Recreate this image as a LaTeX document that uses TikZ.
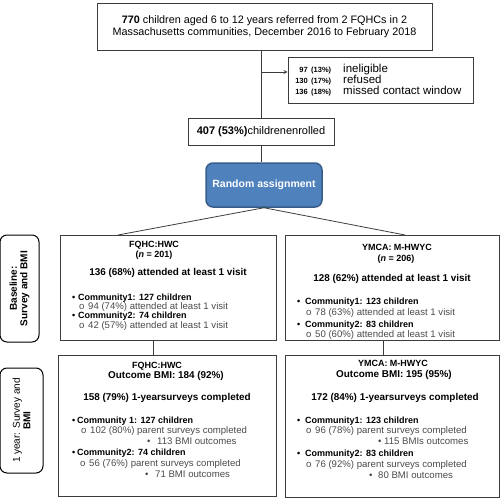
\documentclass[tikz,border=0pt]{standalone}
\usepackage{fontspec}
\setmainfont{Liberation Sans}
\usepackage{tikz}
\usetikzlibrary{shapes,arrows,positioning}
\definecolor{boxline}{HTML}{3C3C3C}
\definecolor{rablue}{HTML}{4F81BD}
\definecolor{radark}{HTML}{385D8A}
\definecolor{subgray}{HTML}{4A4A4A}
\tikzstyle{box} = [rectangle, draw=boxline, line width=0.9pt, inner sep=0pt]
\tikzstyle{phase} = [rectangle, rounded corners=7pt, draw=black, line width=1pt, inner sep=0pt, align=center, font=\fontsize{10}{10.5}\selectfont]
\tikzstyle{head} = [inner sep=0pt, anchor=base, font=\bfseries\fontsize{9}{9.5}\selectfont]
\tikzstyle{result} = [inner sep=0pt, anchor=base, font=\bfseries\fontsize{9.9}{10.5}\selectfont]
\tikzstyle{item} = [inner sep=0pt, anchor=base west, font=\bfseries\fontsize{9}{9.5}\selectfont]
\tikzstyle{sub} = [inner sep=0pt, anchor=base west, text=subgray, font=\fontsize{9.6}{10}\selectfont]
\tikzstyle{line} = [draw=boxline, line width=0.8pt]
\tikzstyle{arrow} = [line,->,>=stealth]

\begin{document}
\begin{tikzpicture}[x=1pt,y=-1pt]
  \useasboundingbox (0,0) rectangle (500,500);

  % recruitment
  \node[box, minimum width=335pt, minimum height=47pt, align=center,
        font=\fontsize{10.8}{11.5}\selectfont] (referred) at (264.5,26.5)
      {\textbf{770} children aged 6 to 12 years referred from 2 FQHCs in 2\\
       Massachusetts communities, December 2016 to February 2018};
  \node[box, minimum width=185pt, minimum height=46pt] (excluded) at (380.5,80) {};
  \foreach \y/\n/\p/\t in {70/97/13/ineligible, 81/130/17/refused, 92/136/18/missed contact window} {
    \node[inner sep=0pt, anchor=base east, font=\bfseries\fontsize{7.5}{8}\selectfont] at (308,\y+3) {\n};
    \node[inner sep=0pt, anchor=base west, font=\bfseries\fontsize{7.5}{8}\selectfont] at (311,\y+3) {(\p\%)};
    \node[inner sep=0pt, anchor=base west, font=\fontsize{11.5}{12}\selectfont] at (343,\y+3) {\t};
  }
  \node[box, minimum width=146pt, minimum height=27pt, font=\fontsize{11}{12}\selectfont]
      (enrolled) at (261,131.5) {\textbf{407 (53\%)}childrenenrolled};
  \node[rectangle, rounded corners=7pt, fill=rablue, draw=radark, line width=1.5pt,
        minimum width=116pt, minimum height=44pt, text=white,
        font=\bfseries\fontsize{10.5}{11}\selectfont] (random) at (264,185) {Random assignment};

  \coordinate (split) at (261,72);
  \draw[line] (enrolled.north |- referred.south) -- (enrolled.north);
  \draw[arrow] (split) -- (excluded.west |- split);
  \draw[line] (enrolled.south) -- (enrolled.south |- random.north);

  % phases
  \node[phase, rotate=90, minimum width=107pt, minimum height=39pt] (baseline) at (19.5,288.5)
      {\textbf{Baseline:}\\\textbf{Survey and BMI}};
  \node[phase, rotate=90, minimum width=105pt, minimum height=43pt] (oneyear) at (21.5,420.5)
      {1 year: Survey and\\\textbf{BMI}};

  % baseline arms
  \node[box, minimum width=216pt, minimum height=105pt] (hwc) at (168,287.5) {};
  \node[box, minimum width=214pt, minimum height=105pt] (ymca) at (392,287.5) {};
  \coordinate (hwcin) at (118,235);
  \coordinate (ymcain) at (405,235);
  \draw[line] (random.south) -- (hwcin);
  \draw[line] (random.south) -- (ymcain);

  \node[head] at (154,247) {FQHC:HWC};
  \node[head] at (154,257) {(\textit{n} = 201)};
  \node[result] at (168,275) {136 (68\%) attended at least 1 visit};
  \node[item] at (72,300) {\makebox[6pt][l]{•}Community1: 127 children};
  \node[sub] at (79,309) {\makebox[9pt][l]{o}94 (74\%) attended at least 1 visit};
  \node[item] at (72,318) {\makebox[6pt][l]{•}Community2: 74 children};
  \node[sub] at (79,328) {\makebox[9pt][l]{o}42 (57\%) attended at least 1 visit};

  \node[head] at (397,250) {YMCA: M-HWYC};
  \node[head] at (396,261) {(\textit{n} = 206)};
  \node[result] at (392,281) {128 (62\%) attended at least 1 visit};
  \node[item] at (297,304) {\makebox[8pt][l]{•}Community1: 123 children};
  \node[sub] at (306,315) {\makebox[9pt][l]{o}78 (63\%) attended at least 1 visit};
  \node[item] at (297,327) {\makebox[8pt][l]{•}Community2: 83 children};
  \node[sub] at (306,337) {\makebox[9pt][l]{o}50 (60\%) attended at least 1 visit};

  % one year arms
  \node[box, minimum width=218pt, minimum height=141pt] (hwcyear) at (167,425.5) {};
  \node[box, minimum width=214pt, minimum height=142pt] (ymcayear) at (392,426) {};
  \coordinate (hwcdown) at (153,0);
  \coordinate (ymcadown) at (383,0);
  \draw[line] (hwc.south -| hwcdown) -- (hwcyear.north -| hwcdown);
  \draw[line] (ymca.south -| ymcadown) -- (ymcayear.north -| ymcadown);

  \node[head] at (157,368) {FQHC:HWC};
  \node[result] at (166,378) {Outcome BMI: 184 (92\%)};
  \node[result] at (167,400) {158 (79\%) 1-yearsurveys completed};
  \node[item] at (72,423) {\makebox[5pt][l]{•}Community 1: 127 children};
  \node[sub] at (81,433) {\makebox[9pt][l]{o}102 (80\%) parent surveys completed};
  \node[sub] at (147,444) {\makebox[10pt][l]{•}113 BMI outcomes};
  \node[item] at (72,455) {\makebox[5pt][l]{•}Community2: 74 children};
  \node[sub] at (80,466) {\makebox[9pt][l]{o}56 (76\%) parent surveys completed};
  \node[sub] at (145,477) {\makebox[10pt][l]{•}71 BMI outcomes};

  \node[head] at (393,366) {YMCA: M-HWYC};
  \node[result] at (394,377) {Outcome BMI: 195 (95\%)};
  \node[result] at (395,400) {172 (84\%) 1-yearsurveys completed};
  \node[item] at (297,423) {\makebox[8pt][l]{•}Community1: 123 children};
  \node[sub] at (306,433) {\makebox[9pt][l]{o}96 (78\%) parent surveys completed};
  \node[sub] at (378,444) {\makebox[6pt][l]{•}115 BMIs outcomes};
  \node[item] at (297,456) {\makebox[8pt][l]{•}Community2: 83 children};
  \node[sub] at (306,467) {\makebox[9pt][l]{o}76 (92\%) parent surveys completed};
  \node[sub] at (369,478) {\makebox[9pt][l]{•}80 BMI outcomes};
\end{tikzpicture}
\end{document}
